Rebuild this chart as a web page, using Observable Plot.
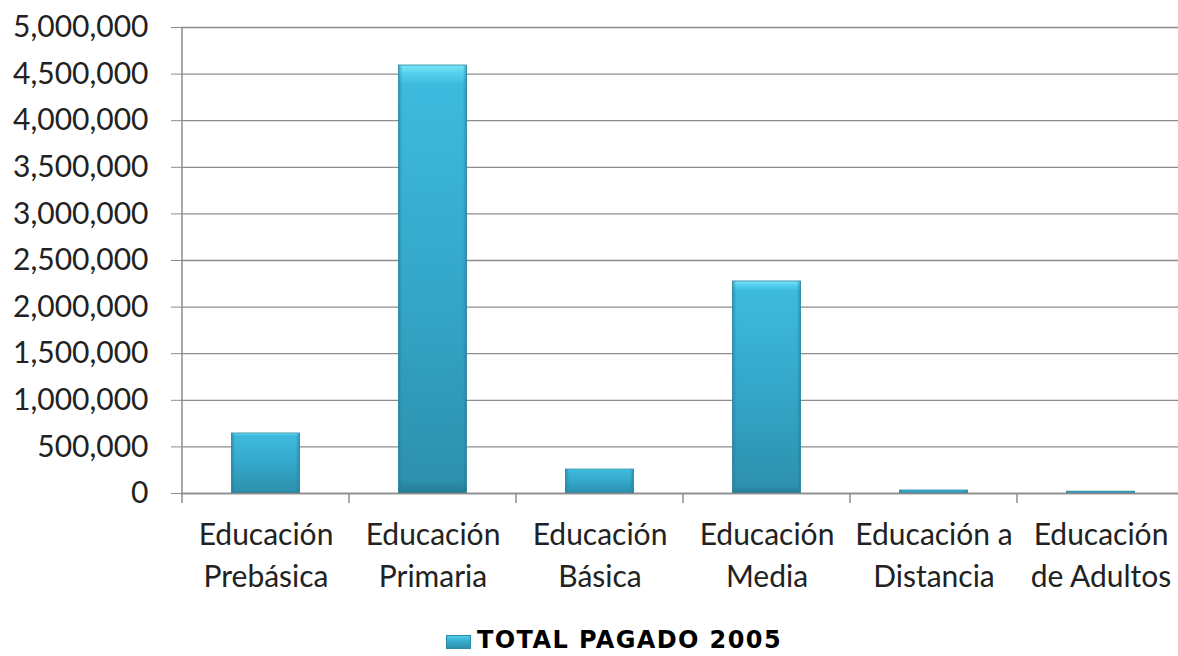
<!DOCTYPE html>
<html>
<head>
<meta charset="utf-8">
<script src="https://cdn.jsdelivr.net/npm/d3@7"></script>
<script src="https://cdn.jsdelivr.net/npm/@observablehq/plot@0.6"></script>
<style>
  html, body { margin: 0; padding: 0; background: #fff; overflow: hidden; }
  #chart svg { display: block; }
  #legend { height: 44px; display: flex; justify-content: center; align-items: center; font-family: "DejaVu Sans", sans-serif; font-weight: bold; font-size: 24px; color: #000; padding-left: 50px; padding-top: 12px; box-sizing: border-box; }
  #legend .sw { width: 25px; height: 14px; margin-right: 6px; margin-top: 3px; background: linear-gradient(to bottom, #5fd6f2 0%, #3bb6d8 30%, #2c8dab 100%); box-shadow: inset 0 0 0 1px #2b8aa6; }
  #legend .lbl { line-height: 28px; letter-spacing: 1.4px; }
</style>
</head>
<body>
<div id="chart"></div>
<div id="legend"><div class="sw"></div><div class="lbl">TOTAL PAGADO 2005</div></div>
<script>
const categories = ["Educación Prebásica", "Educación Primaria", "Educación Básica", "Educación Media", "Educación a Distancia", "Educación de Adultos"];
const tickLabels = ["Educación\nPrebásica", "Educación\nPrimaria", "Educación\nBásica", "Educación\nMedia", "Educación a\nDistancia", "Educación\nde Adultos"];
const values = [644000, 4592000, 257000, 2275000, 32000, 20000];
const yTicks = [0, 500000, 1000000, 1500000, 2000000, 2500000, 3000000, 3500000, 4000000, 4500000, 5000000];
const seriesName = "TOTAL PAGADO 2005";

const data = categories.map((c, i) => ({category: c, value: values[i]}));
const labelOf = new Map(categories.map((c, i) => [c, tickLabels[i]]));

const chart = Plot.plot({
  width: 1178,
  height: 612,
  marginLeft: 181,
  marginRight: -6,
  marginTop: 27,
  marginBottom: 119,
  style: {fontFamily: "Lato, sans-serif", fontSize: "30px", color: "#222", background: "#fff", overflow: "visible"},
  x: {domain: categories, padding: 0, label: null},
  y: {domain: [0, 5000000], label: null},
  marks: [
    Plot.gridY(yTicks, {stroke: "#8c8c8c", strokeOpacity: 1, strokeWidth: 1.3}),
    Plot.axisY(yTicks, {tickFormat: d3.format(","), tickSize: 10, tickPadding: 23, stroke: "#8c8c8c", fill: "#222", fontSize: 30, label: null}),
    Plot.axisX({tickSize: 0, tickPadding: 22, tickFormat: d => labelOf.get(d), lineHeight: 1.4, fontSize: 30, fill: "#222", label: null}),
    Plot.barY(data, {x: "category", y: "value", fill: "url(#barGradV)", insetLeft: 49.5, insetRight: 49.5}),
    Plot.barY(data, {x: "category", y: "value", fill: "url(#barGradH)", insetLeft: 49.5, insetRight: 49.5, stroke: "#2a839e", strokeWidth: 0.8}),
    Plot.ruleY([0], {stroke: "#8c8c8c", strokeWidth: 1.5})
  ]
});

// gradients for the bevelled bar look
const svg = d3.select(chart);
const defs = svg.insert("defs", ":first-child");
const gv = defs.append("linearGradient").attr("id", "barGradV").attr("x1", 0).attr("y1", 0).attr("x2", 0).attr("y2", 1);
[[0, "#78e6fa"], [0.02, "#55d0ee"], [0.045, "#3dbade"], [0.5, "#34a8ca"], [0.97, "#2d91ae"], [1, "#237a93"]].forEach(([o, c]) => gv.append("stop").attr("offset", o).attr("stop-color", c));
const gh = defs.append("linearGradient").attr("id", "barGradH").attr("x1", 0).attr("y1", 0).attr("x2", 1).attr("y2", 0);
[[0, "#1f6f86", 0.55], [0.06, "#2a8aa6", 0], [0.94, "#2a8aa6", 0], [1, "#1f6f86", 0.55]].forEach(([o, c, a]) => gh.append("stop").attr("offset", o).attr("stop-color", c).attr("stop-opacity", a));

// vertical axis line at the first band's start, and category boundary ticks, from the scales
const x = chart.scale("x");
const y = chart.scale("y");
const y0 = y.apply(0);
const g = svg.append("g").attr("stroke", "#8c8c8c").attr("stroke-width", 1.5);
g.append("line").attr("x1", x.apply(categories[0])).attr("x2", x.apply(categories[0])).attr("y1", y.apply(5000000)).attr("y2", y0);
categories.forEach(c => {
  const xx = x.apply(c);
  g.append("line").attr("x1", xx).attr("x2", xx).attr("y1", y0).attr("y2", y0 + 10);
});

document.getElementById("chart").appendChild(chart);
</script>
</body>
</html>
